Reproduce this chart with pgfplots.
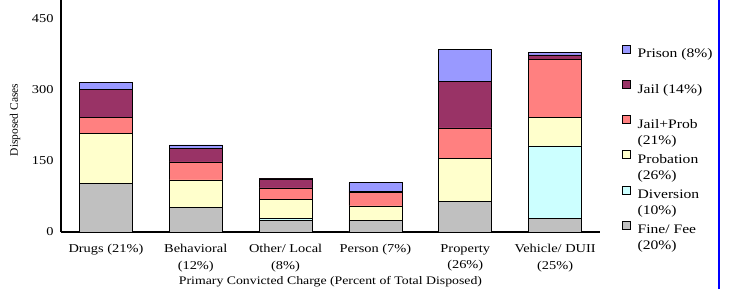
\documentclass[border=0pt]{standalone}
\usepackage{fontspec}
\setmainfont[FakeStretch=1.2]{Liberation Serif}
\newfontfamily\plainserif{Liberation Serif}
\usepackage{pgfplots}
\usepackage{pgfplotstable}
\pgfplotsset{compat=1.18}
\definecolor{cprison}{RGB}{153,153,255}
\definecolor{cjail}{RGB}{153,51,102}
\definecolor{cjp}{RGB}{255,128,128}
\definecolor{cprob}{RGB}{255,255,204}
\definecolor{cdiv}{RGB}{204,255,255}
\definecolor{cfine}{RGB}{192,192,192}
\pgfplotstableread{
x fine div prob jp jail prison
0 103 0 105 34 59 15
1 52 0 58 38 29 7
2 24 4 41 24 19 2
3 25 0 30 29 1 19
4 64 0 92 64 98 68
5 29 153 60 123 9 5
}\datatable
\begin{document}
\begin{tikzpicture}
\path[use as bounding box] (0pt,0pt) rectangle (730pt,289pt);
\begin{axis}[
  at={(61pt,57pt)}, anchor=south west,
  scale only axis, width=539pt, height=232pt,
  ybar stacked, bar width=53pt,
  xmin=-0.5, xmax=5.5, ymin=0, ymax=490,
  axis x line*=bottom, axis y line*=left,
  axis line style={-, line width=1.2pt},
  major tick length=0pt,
  ytick={0,150,300,450},
  xtick={0,1,2,3,4,5},
  xticklabels={{Drugs (21\%)},{Behavioral\\(12\%)},{Other/ Local\\(8\%)},{Person (7\%)},{Property\\(26\%)},{Vehicle/ DUII\\(25\%)}},
  /pgf/number format/assume math mode=true,
  yticklabel style={font=\fontsize{12}{14}\selectfont, xshift=-4pt},
  xticklabel style={font=\fontsize{12}{16.5}\selectfont, align=center, anchor=north, yshift=-9pt},
  ylabel={\plainserif\fontsize{11.5}{13}\selectfont Disposed Cases},
  ylabel style={at={(axis description cs:-0.085,0.483)}, anchor=center},
  xlabel={Primary Convicted Charge (Percent of Total Disposed)},
  xlabel style={font=\fontsize{11.5}{13}\selectfont, at={(axis description cs:0.5,-0.225)}, anchor=base},
  every axis plot/.append style={draw=black, line width=0.6pt},
  legend image code/.code={\draw[#1] (0pt,0pt) rectangle (8pt,8pt); \path (13pt,0pt);},
  reverse legend,
  legend style={at={(axis description cs:1.035,0.817)}, anchor=north west, draw=none, fill=none,
    font=\fontsize{13}{16}\selectfont, legend cell align=left, row sep=18.5pt},
]
\addplot[fill=cfine] table[x=x,y=fine] {\datatable};
\addlegendentry{\parbox[t]{80pt}{\strut Fine/ Fee\\\strut(20\%)}}
\addplot[fill=cdiv] table[x=x,y=div] {\datatable};
\addlegendentry{\parbox[t]{80pt}{\strut Diversion\\\strut(10\%)}}
\addplot[fill=cprob] table[x=x,y=prob] {\datatable};
\addlegendentry{\parbox[t]{80pt}{\strut Probation\\\strut(26\%)}}
\addplot[fill=cjp] table[x=x,y=jp] {\datatable};
\addlegendentry{\parbox[t]{80pt}{\strut Jail+Prob\\\strut(21\%)}}
\addplot[fill=cjail] table[x=x,y=jail] {\datatable};
\addlegendentry{\parbox[t]{80pt}{\strut Jail (14\%)}}
\addplot[fill=cprison] table[x=x,y=prison] {\datatable};
\addlegendentry{\parbox[t]{80pt}{\strut Prison (8\%)}}
\end{axis}
\draw[blue, line width=2pt] (719pt,0pt) -- (719pt,289pt);
\end{tikzpicture}
\end{document}
